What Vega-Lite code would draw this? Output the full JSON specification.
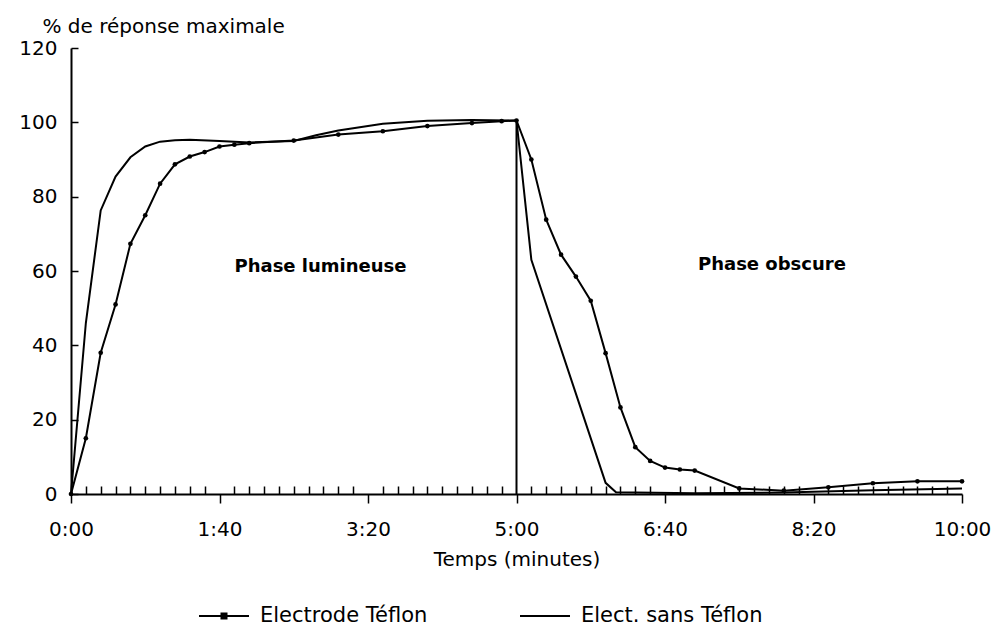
{
  "$schema": "https://vega.github.io/schema/vega-lite/v6.json",
  "width": 891,
  "height": 446,
  "autosize": {"type": "none"},
  "padding": {"left": 71, "top": 48, "right": 36, "bottom": 135},
  "background": "white",
  "config": {
    "view": {"stroke": null},
    "font": "DejaVu Sans",
    "axis": {"grid": false, "domainColor": "black", "tickColor": "black", "labelColor": "black", "titleColor": "black", "titleFontWeight": "normal", "labelFontSize": 20, "titleFontSize": 20, "labelFont": "DejaVu Sans", "titleFont": "DejaVu Sans"}
  },
  "datasets": {
    "courbes": [
      {"serie": "Electrode Téflon", "t": 0, "val": 0},
      {"serie": "Electrode Téflon", "t": 10, "val": 15},
      {"serie": "Electrode Téflon", "t": 20, "val": 38},
      {"serie": "Electrode Téflon", "t": 30, "val": 51},
      {"serie": "Electrode Téflon", "t": 40, "val": 67.3},
      {"serie": "Electrode Téflon", "t": 50, "val": 75},
      {"serie": "Electrode Téflon", "t": 60, "val": 83.5},
      {"serie": "Electrode Téflon", "t": 70, "val": 88.7},
      {"serie": "Electrode Téflon", "t": 80, "val": 90.8},
      {"serie": "Electrode Téflon", "t": 90, "val": 92},
      {"serie": "Electrode Téflon", "t": 100, "val": 93.5},
      {"serie": "Electrode Téflon", "t": 110, "val": 94},
      {"serie": "Electrode Téflon", "t": 120, "val": 94.4},
      {"serie": "Electrode Téflon", "t": 150, "val": 95.1},
      {"serie": "Electrode Téflon", "t": 180, "val": 96.7},
      {"serie": "Electrode Téflon", "t": 210, "val": 97.6},
      {"serie": "Electrode Téflon", "t": 240, "val": 99},
      {"serie": "Electrode Téflon", "t": 270, "val": 99.8},
      {"serie": "Electrode Téflon", "t": 290, "val": 100.3},
      {"serie": "Electrode Téflon", "t": 300, "val": 100.5},
      {"serie": "Electrode Téflon", "t": 310, "val": 90},
      {"serie": "Electrode Téflon", "t": 320, "val": 73.8},
      {"serie": "Electrode Téflon", "t": 330, "val": 64.4},
      {"serie": "Electrode Téflon", "t": 340, "val": 58.5},
      {"serie": "Electrode Téflon", "t": 350, "val": 52},
      {"serie": "Electrode Téflon", "t": 360, "val": 37.9},
      {"serie": "Electrode Téflon", "t": 370, "val": 23.3},
      {"serie": "Electrode Téflon", "t": 380, "val": 12.6},
      {"serie": "Electrode Téflon", "t": 390, "val": 8.9},
      {"serie": "Electrode Téflon", "t": 400, "val": 7.1},
      {"serie": "Electrode Téflon", "t": 410, "val": 6.6},
      {"serie": "Electrode Téflon", "t": 420, "val": 6.3},
      {"serie": "Electrode Téflon", "t": 450, "val": 1.5},
      {"serie": "Electrode Téflon", "t": 480, "val": 0.9},
      {"serie": "Electrode Téflon", "t": 510, "val": 1.8},
      {"serie": "Electrode Téflon", "t": 540, "val": 2.9},
      {"serie": "Electrode Téflon", "t": 570, "val": 3.4},
      {"serie": "Electrode Téflon", "t": 600, "val": 3.4},
      {"serie": "Elect. sans Téflon", "t": 0, "val": 0},
      {"serie": "Elect. sans Téflon", "t": 10, "val": 46},
      {"serie": "Elect. sans Téflon", "t": 20, "val": 76.3},
      {"serie": "Elect. sans Téflon", "t": 30, "val": 85.4},
      {"serie": "Elect. sans Téflon", "t": 40, "val": 90.6},
      {"serie": "Elect. sans Téflon", "t": 50, "val": 93.5},
      {"serie": "Elect. sans Téflon", "t": 60, "val": 94.8},
      {"serie": "Elect. sans Téflon", "t": 70, "val": 95.2},
      {"serie": "Elect. sans Téflon", "t": 80, "val": 95.3},
      {"serie": "Elect. sans Téflon", "t": 100, "val": 95},
      {"serie": "Elect. sans Téflon", "t": 120, "val": 94.6},
      {"serie": "Elect. sans Téflon", "t": 150, "val": 95},
      {"serie": "Elect. sans Téflon", "t": 165, "val": 96.5},
      {"serie": "Elect. sans Téflon", "t": 180, "val": 97.8},
      {"serie": "Elect. sans Téflon", "t": 210, "val": 99.6},
      {"serie": "Elect. sans Téflon", "t": 240, "val": 100.4},
      {"serie": "Elect. sans Téflon", "t": 270, "val": 100.6},
      {"serie": "Elect. sans Téflon", "t": 300, "val": 100.5},
      {"serie": "Elect. sans Téflon", "t": 310, "val": 63},
      {"serie": "Elect. sans Téflon", "t": 360, "val": 3},
      {"serie": "Elect. sans Téflon", "t": 367, "val": 0.5},
      {"serie": "Elect. sans Téflon", "t": 420, "val": 0.2},
      {"serie": "Elect. sans Téflon", "t": 480, "val": 0.4},
      {"serie": "Elect. sans Téflon", "t": 540, "val": 1},
      {"serie": "Elect. sans Téflon", "t": 600, "val": 1.5}
    ],
    "coupure": [{"t": 300, "bas": 0, "haut": 100.5}],
    "phases": [
      {"t": 168, "val": 61, "texte": "Phase lumineuse"},
      {"t": 472, "val": 61.5, "texte": "Phase obscure"}
    ]
  },
  "layer": [
    {
      "data": {"name": "courbes"},
      "mark": {"type": "line", "strokeWidth": 2, "interpolate": "linear"},
      "encoding": {
        "x": {
          "field": "t", "type": "quantitative",
          "scale": {"domain": [0, 600], "nice": false, "zero": false},
          "axis": {
            "title": "Temps (minutes)",
            "values": [0,10,20,30,40,50,60,70,80,90,100,110,120,130,140,150,160,170,180,190,200,210,220,230,240,250,260,270,280,290,300,310,320,330,340,350,360,370,380,390,400,410,420,430,440,450,460,470,480,490,500,510,520,530,540,550,560,570,580,590,600],
            "tickCount": 200,
            "labelExpr": "datum.value % 100 === 0 ? floor(datum.value / 60) + ':' + (datum.value % 60 < 10 ? '0' : '') + (datum.value % 60) : ''",
            "tickSize": {"condition": {"test": "datum.value % 100 === 0", "value": 9}, "value": -8},
            "tickWidth": 1.5,
            "domainWidth": 2,
            "labelOverlap": false,
            "labelFlush": false,
            "labelBound": false,
            "labelPadding": 16,
            "titlePadding": 10
          }
        },
        "y": {
          "field": "val", "type": "quantitative",
          "scale": {"domain": [0, 120], "nice": false},
          "axis": {
            "title": "% de réponse maximale",
            "values": [0, 20, 40, 60, 80, 100, 120],
            "tickSize": -7,
            "tickWidth": 1.5,
            "domainWidth": 2,
            "labelPadding": 21,
            "titleAngle": 0,
            "titleAlign": "left",
            "titleBaseline": "alphabetic",
            "titleX": -29,
            "titleY": -16
          }
        },
        "detail": {"field": "serie"},
        "stroke": {
          "field": "serie", "type": "nominal",
          "scale": {"domain": ["Electrode Téflon", "Elect. sans Téflon"], "range": ["black", "black"]},
          "legend": {
            "orient": "none",
            "legendX": 127,
            "legendY": 542,
            "direction": "horizontal",
            "title": null,
            "symbolSize": 2500,
            "symbolStrokeWidth": 2,
            "symbolStrokeColor": "black",
            "labelFontSize": 21,
            "labelFont": "DejaVu Sans",
            "labelColor": "black",
            "labelOffset": 10,
            "labelLimit": 400,
            "columnPadding": 88,
            "encode": {
              "symbols": {
                "update": {
                  "shape": {"signal": "datum.value === 'Electrode Téflon' ? 'M-1,0H1M-0.1,-0.1H0.1V0.1H-0.1Z' : 'M-1,0H1'"},
                  "fill": {"value": "black"},
                  "stroke": {"value": "black"}
                }
              }
            }
          }
        }
      }
    },
    {
      "data": {"name": "coupure"},
      "mark": {"type": "rule", "strokeWidth": 2, "color": "black"},
      "encoding": {
        "x": {"field": "t", "type": "quantitative"},
        "y": {"field": "bas", "type": "quantitative"},
        "y2": {"field": "haut"}
      }
    },
    {
      "data": {"name": "courbes"},
      "transform": [{"filter": "datum.serie === 'Electrode Téflon'"}],
      "mark": {"type": "point", "filled": true, "size": 22, "color": "black", "opacity": 1},
      "encoding": {
        "x": {"field": "t", "type": "quantitative"},
        "y": {"field": "val", "type": "quantitative"}
      }
    },
    {
      "data": {"name": "phases"},
      "mark": {"type": "text", "fontWeight": "bold", "fontSize": 18, "font": "DejaVu Sans", "align": "center", "baseline": "middle", "color": "black"},
      "encoding": {
        "x": {"field": "t", "type": "quantitative"},
        "y": {"field": "val", "type": "quantitative"},
        "text": {"field": "texte"}
      }
    }
  ]
}
